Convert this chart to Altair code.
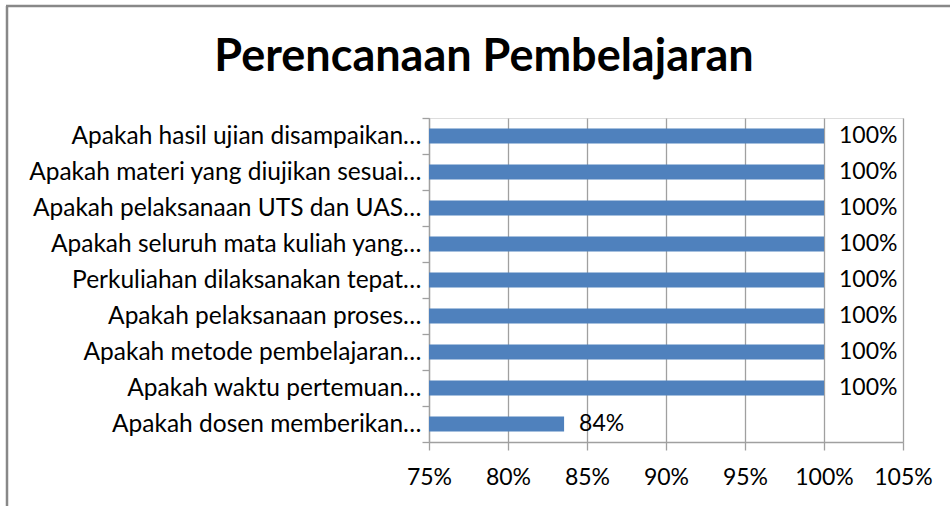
import altair as alt
import pandas as pd

title_text = "Perencanaan Pembelajaran"
categories = [
    "Apakah hasil ujian disampaikan…",
    "Apakah materi yang diujikan sesuai…",
    "Apakah pelaksanaan UTS dan UAS…",
    "Apakah seluruh mata kuliah yang…",
    "Perkuliahan dilaksanakan tepat…",
    "Apakah pelaksanaan proses…",
    "Apakah metode pembelajaran…",
    "Apakah waktu pertemuan…",
    "Apakah dosen memberikan…",
]
values = [1.0, 1.0, 1.0, 1.0, 1.0, 1.0, 1.0, 1.0, 0.8355]
x_ticks = [0.75, 0.80, 0.85, 0.90, 0.95, 1.00, 1.05]

df = pd.DataFrame({"cat": categories, "val": values, "base": [0.75] * len(values)})
tdf = pd.DataFrame({"t": [title_text]})

FONT = "Lato"
W, H = 474, 324

xscale = alt.Scale(domain=[0.75, 1.05], zero=False, nice=False)
yscale = alt.Scale(domain=categories, paddingInner=0, paddingOuter=0)

bars = alt.Chart(df).mark_bar(size=15, color="#4F81BD").encode(
    x=alt.X("val:Q", scale=xscale, title=None,
            axis=alt.Axis(values=x_ticks, format=".0%", grid=True, gridColor="#A0A0A0",
                          gridWidth=1.3, domainColor="#A0A0A0", domainWidth=1.3,
                          tickColor="#A0A0A0", tickWidth=1.3, tickSize=8,
                          labelFont=FONT, labelFontSize=23, labelColor="#000000",
                          labelPadding=16, labelFlush=False)),
    x2="base:Q",
    y=alt.Y("cat:N", sort=None, scale=yscale, title=None,
            axis=alt.Axis(tickBand="extent", domainColor="#A0A0A0", domainWidth=1.3,
                          tickColor="#A0A0A0", tickWidth=1.3, tickSize=7,
                          labelFont=FONT, labelFontSize=24.5, labelColor="#000000",
                          labelPadding=1, labelLimit=420, grid=False)),
)

labels = alt.Chart(df).mark_text(align="left", baseline="middle", dx=15,
                                 font=FONT, fontSize=23, color="#000000").encode(
    x=alt.X("val:Q", scale=xscale),
    y=alt.Y("cat:N", sort=None, scale=yscale),
    text=alt.Text("val:Q", format=".0%"),
)

title = alt.Chart(tdf).mark_text(align="center", baseline="alphabetic", font=FONT,
                                 fontSize=45, fontWeight="bold", color="#000000").encode(
    text="t:N", x=alt.value(55), y=alt.value(-47))

frame_left = alt.Chart(tdf).mark_rule(color="#888888", strokeWidth=2.5).encode(
    x=alt.value(-422), y=alt.value(-112), y2=alt.value(420))
frame_top = alt.Chart(tdf).mark_rule(color="#888888", strokeWidth=2.5).encode(
    x=alt.value(-423), x2=alt.value(540), y=alt.value(-112))

chart = alt.layer(frame_left, frame_top, title, bars, labels).properties(
    width=W, height=H,
    autosize=alt.AutoSizeParams(type="none"),
    padding={"left": 429, "top": 118, "right": 47, "bottom": 64},
).configure_view(stroke=None).configure(background="white")

chart.save("out.html", embed_options={"renderer": "svg", "actions": False})
